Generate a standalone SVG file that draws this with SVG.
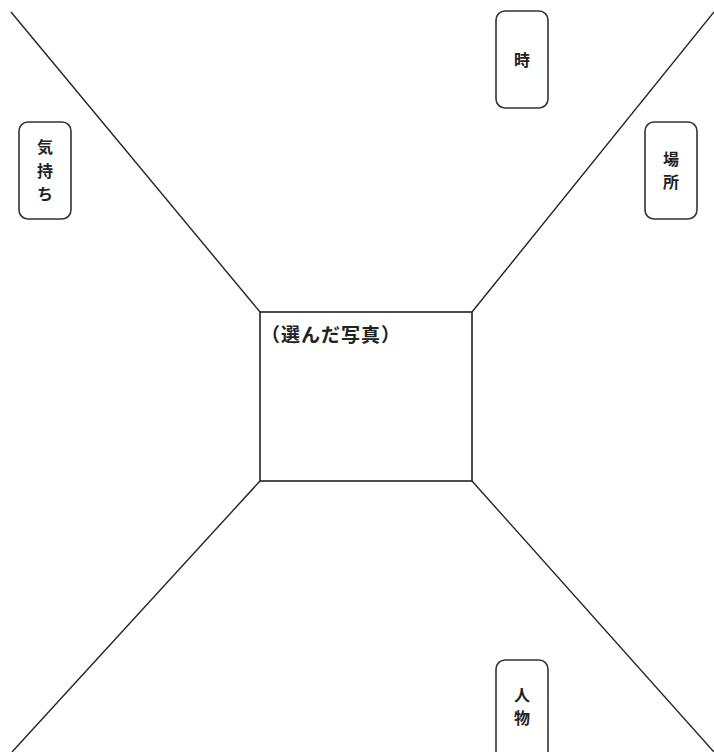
<svg xmlns="http://www.w3.org/2000/svg" width="714" height="752" viewBox="0 0 714 752">
<style>
.ln{stroke:#222;stroke-width:1.4;fill:none}
.bx{stroke:#333;stroke-width:1.6;fill:#fff}
.t{font-family:"Noto Sans CJK JP","Noto Sans CJK SC",sans-serif;font-size:16px;font-weight:bold;fill:#222;text-anchor:middle}
</style>
<rect width="714" height="752" fill="#fff"/>
<g id="connectors">
<line class="ln" x1="11" y1="12" x2="260" y2="312"/>
<line class="ln" x1="714" y1="12" x2="472" y2="312"/>
<line class="ln" x1="260" y1="481" x2="12" y2="752"/>
<line class="ln" x1="472" y1="481" x2="714" y2="752"/>
</g>
<g id="center">
<rect x="260" y="312" width="212" height="169" fill="#fff" stroke="#222" stroke-width="1.6"/>
<text class="t" x="261" y="342" style="text-anchor:start;font-size:19px;letter-spacing:1px">（選んだ写真）</text>
</g>
<g id="kimochi">
<rect class="bx" x="19" y="122" width="52" height="97" rx="9"/>
<text class="t" x="45" y="153">気</text>
<text class="t" x="45" y="177">持</text>
<text class="t" x="45" y="200">ち</text>
</g>
<g id="toki">
<rect class="bx" x="496" y="11" width="52" height="97" rx="9"/>
<text class="t" x="522" y="66">時</text>
</g>
<g id="basho">
<rect class="bx" x="645" y="122" width="52" height="97" rx="9"/>
<text class="t" x="671" y="165">場</text>
<text class="t" x="671" y="188">所</text>
</g>
<g id="jinbutsu">
<rect class="bx" x="496" y="660" width="52" height="110" rx="9"/>
<text class="t" x="522" y="701">人</text>
<text class="t" x="522" y="724">物</text>
</g>
</svg>
